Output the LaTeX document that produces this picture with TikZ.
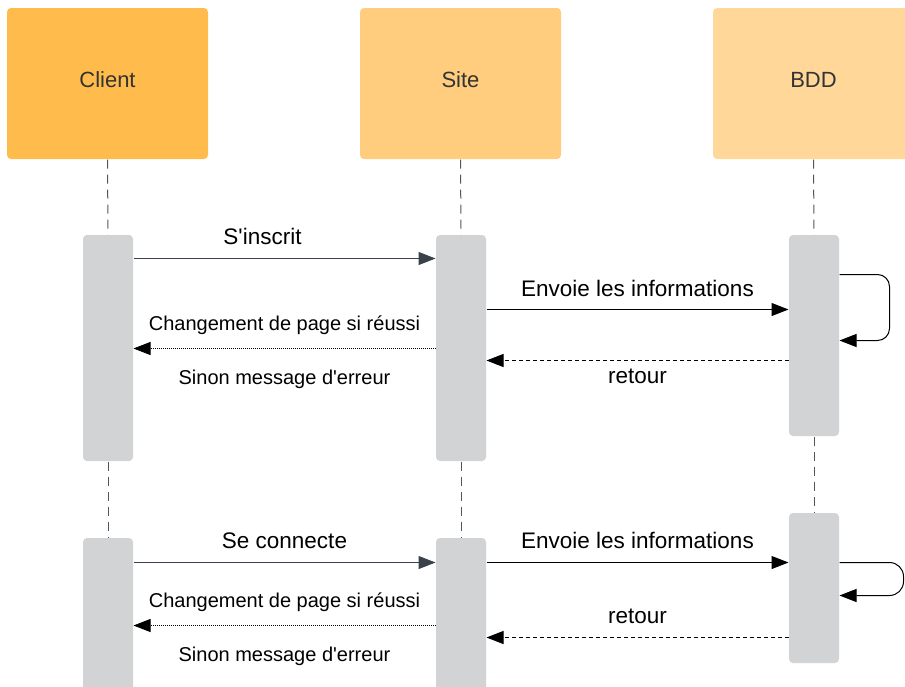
\documentclass[tikz,border=0pt]{standalone}
\usepackage{fontspec}
\setmainfont{Liberation Sans}
\usetikzlibrary{arrows.meta}

\definecolor{clientcol}{HTML}{FFBC4D}
\definecolor{sitecol}{HTML}{FFCD7D}
\definecolor{bddcol}{HTML}{FFD899}
\definecolor{barcol}{HTML}{D1D3D4}
\definecolor{headtext}{HTML}{333333}
\definecolor{msgcol}{HTML}{3A414A}
\definecolor{lifecol}{HTML}{555555}

\begin{document}
\begin{tikzpicture}[x=1pt,y=-1pt,>={Triangle[length=17pt,width=13pt]},
                    line width=1pt]
  \tikzstyle{head}=[rounded corners=4pt,minimum width=201pt,minimum height=151pt,
                    text=headtext,text depth=7pt,font=\fontsize{22}{26}\selectfont]
  \tikzstyle{bar}=[fill=barcol,rounded corners=4pt,minimum width=50pt,inner sep=0pt]
  \tikzstyle{life}=[draw=lifecol,dash pattern=on 9pt off 6pt]
  \tikzstyle{big}=[font=\fontsize{22.5}{26}\selectfont]
  \tikzstyle{small}=[font=\fontsize{20}{24}\selectfont]
  \tikzstyle{back}=[->,dash pattern=on 4pt off 3pt]
  \tikzstyle{answer}=[->,line width=0.8pt,dash pattern=on 1pt off 1pt]

  \useasboundingbox (0,0) rectangle (905,686);

  % heads
  \node[head,fill=clientcol] (client) at (107.5,83.5) {Client};
  \node[head,fill=sitecol]   (site)   at (460.5,83.5) {Site};
  \node[head,fill=bddcol]    (bdd)    at (813.5,83.5) {BDD};

  % activation bars
  \node[bar,minimum height=226pt] (cb1) at (108,348)   {};
  \node[bar,minimum height=226pt] (sb1) at (461,348)   {};
  \node[bar,minimum height=201pt] (bb1) at (814,335.5) {};
  \node[bar,minimum height=164pt] (cb2) at (108,620)   {};
  \node[bar,minimum height=164pt] (sb2) at (461,620)   {};
  \node[bar,minimum height=150pt] (bb2) at (814,588)   {};

  % lifelines
  \draw[life] (client.south) -- (cb1.north);
  \draw[life] (site.south)   -- (sb1.north);
  \draw[life] (bdd.south)    -- (bb1.north);
  \draw[life] (cb1.south)    -- (cb2.north);
  \draw[life] (sb1.south)    -- (sb2.north);
  \draw[life] (bb1.south)    -- (bb2.north);

  % inscription
  \draw[->,draw=msgcol,>={Triangle[length=17pt,width=13pt,fill=msgcol]}]
    ([yshift=-24pt]cb1.north east) -- ([yshift=-24pt]sb1.north west)
    node[big,midway,yshift=22pt,xshift=-22pt] {S\textquotesingle inscrit};
  \draw[->] ([yshift=-75pt]sb1.north east) -- ([yshift=-75pt]bb1.north west)
    node[big,midway,yshift=21pt] {Envoie les informations};
  \draw[->,rounded corners=12pt] ([yshift=-40pt]bb1.north east) -- ++(50,0)
    -- ++(0,66) -- ([yshift=-106pt]bb1.north east);
  \draw[back] ([yshift=-126pt]bb1.north west) -- ([yshift=-126pt]sb1.north east)
    node[big,midway,yshift=-16pt] {retour};
  \draw[answer] ([yshift=-114pt]sb1.north west) -- ([yshift=-114pt]cb1.north east)
    node[small,midway,yshift=23pt] {Changement de page si réussi}
    node[small,midway,yshift=-31pt] {Sinon message d\textquotesingle erreur};

  % connexion
  \draw[->,draw=msgcol,>={Triangle[length=17pt,width=13pt,fill=msgcol]}]
    ([yshift=-25pt]cb2.north east) -- ([yshift=-25pt]sb2.north west)
    node[big,midway,yshift=22pt] {Se connecte};
  \draw[->] ([yshift=-25pt]sb2.north east) -- ([yshift=-50pt]bb2.north west)
    node[big,midway,yshift=22pt] {Envoie les informations};
  \draw[->,rounded corners=14pt] ([yshift=-50pt]bb2.north east) -- ++(64,0)
    -- ++(0,33) -- ([yshift=-83pt]bb2.north east);
  \draw[back] ([yshift=-125pt]bb2.north west) -- ([yshift=-100pt]sb2.north east)
    node[big,midway,yshift=21pt] {retour};
  \draw[answer] ([yshift=-88pt]sb2.north west) -- ([yshift=-88pt]cb2.north east)
    node[small,midway,yshift=23pt] {Changement de page si réussi}
    node[small,midway,yshift=-31pt] {Sinon message d\textquotesingle erreur};
\end{tikzpicture}
\end{document}
